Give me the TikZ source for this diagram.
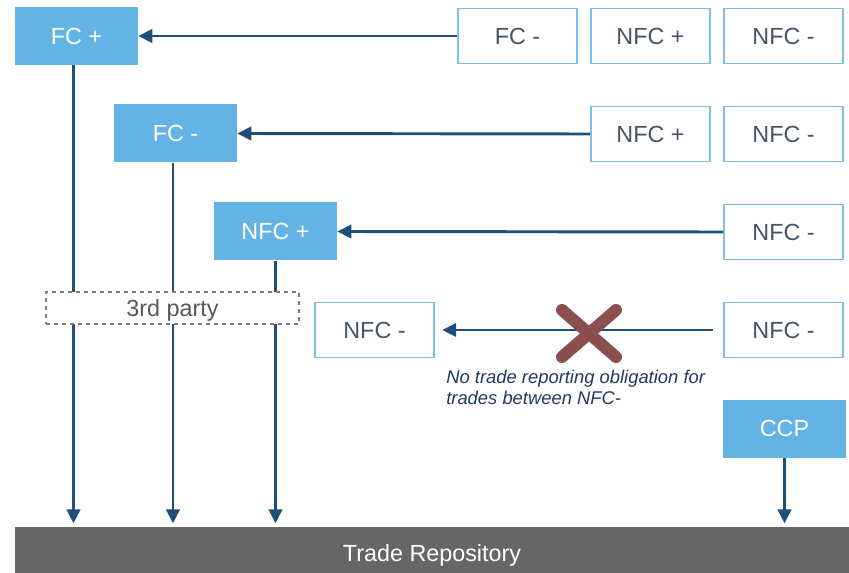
\documentclass[tikz,border=0pt]{standalone}
\usepackage{fontspec}
\setmainfont{Liberation Sans}
\usetikzlibrary{arrows.meta}
\definecolor{fillblue}{HTML}{63B4E4}
\definecolor{edgeblue}{HTML}{7CC0EA}
\definecolor{txtslate}{HTML}{44546A}
\definecolor{arrowblue}{HTML}{1F4E79}
\definecolor{trgrey}{HTML}{666666}
\definecolor{crossred}{HTML}{8B4F4F}
\definecolor{dashgrey}{HTML}{7F7F7F}
\definecolor{notecol}{HTML}{1F3864}
\begin{document}
\begin{tikzpicture}[x=0.75pt,y=-0.75pt,
  boxfont/.style={font=\fontsize{17.5}{20}\selectfont},
  filledbox/.style={rectangle, inner sep=0pt, boxfont, fill=fillblue, text=white,
    minimum width=92.25pt, minimum height=43.5pt},
  outlinebox/.style={rectangle, inner sep=0pt, boxfont, draw=edgeblue, line width=1.1pt,
    fill=white, text=txtslate, minimum width=89.5pt, minimum height=41.5pt},
  arr/.style={draw=arrowblue, line width=2.2pt, -{Triangle[length=10.5pt,width=10pt]}},
  crossline/.style={draw=crossred, line width=9pt, line cap=round}]
\useasboundingbox (0,0) rectangle (849,573);

% top-left filled boxes
\node[filledbox] (fcp) at (76.5,36) {FC +};
\node[filledbox] (fcm) at (175.5,133.5) {FC -};
\node[filledbox] (nfcp) at (275.5,231.5) {NFC +};
\node[filledbox] (ccp) at (784.5,428.5) {CCP};

% outline boxes on the right
\node[outlinebox] (fcmA) at (517.5,36) {FC -};
\node[outlinebox] (nfcpA) at (650.5,36) {NFC +};
\node[outlinebox] (nfcmA) at (783.5,36) {NFC -};
\node[outlinebox] (nfcpB) at (650.5,134) {NFC +};
\node[outlinebox] (nfcmB) at (783.5,134) {NFC -};
\node[outlinebox] (nfcmC) at (783.5,232) {NFC -};
\node[outlinebox] (nfcmD) at (783.5,330) {NFC -};
\node[outlinebox] (nfcmL) at (374.5,330) {NFC -};

% trade repository
\node[rectangle, fill=trgrey, text=white, boxfont, inner sep=0pt,
  text height=20.5pt, text depth=3.5pt,
  minimum width=625.5pt, minimum height=34.5pt] (tr) at (432,550) {Trade Repository};

% horizontal arrows
\draw[arr] (fcmA.west) -- (fcp.east);
\draw[arr] (nfcpB.west) -- (fcm.east);
\draw[arr] (nfcmC.west) -- (nfcp.east);
\draw[arr, shorten <=7.5pt, shorten >=5.5pt] (nfcmD.west) -- (nfcmL.east);

% vertical arrows to trade repository
\draw[arr, shorten >=2.5pt] ([xshift=-2.25pt]fcp.south) -- ([xshift=-2.25pt]fcp.south |- tr.north);
\draw[arr, shorten >=2.5pt] ([xshift=-1.9pt]fcm.south) -- ([xshift=-1.9pt]fcm.south |- tr.north);
\draw[arr, shorten >=2.5pt] (nfcp.south) -- (nfcp.south |- tr.north);
\draw[arr, shorten >=2.5pt] (ccp.south) -- (ccp.south |- tr.north);

% 3rd party dashed box over the lines
\node[rectangle, draw=dashgrey, dashed, line width=0.8pt, fill=white, text=black!65,
  boxfont, inner sep=0pt, text height=16.5pt, text depth=3.5pt,
  minimum width=189.75pt, minimum height=24pt] (third) at (172.5,308) {3rd party};

% cross
\coordinate (xa) at (562,310);
\coordinate (xb) at (616,310);
\coordinate (xc) at (562,357);
\coordinate (xd) at (616,357);
\draw[crossline] (xa) -- (xd);
\draw[crossline] (xb) -- (xc);

% note
\node[anchor=north west, inner sep=0pt, align=left, text=notecol,
  font=\fontsize{13.8}{16}\selectfont\itshape] (note) at (446,370)
  {No trade reporting obligation for\\trades between NFC-};
\end{tikzpicture}
\end{document}
